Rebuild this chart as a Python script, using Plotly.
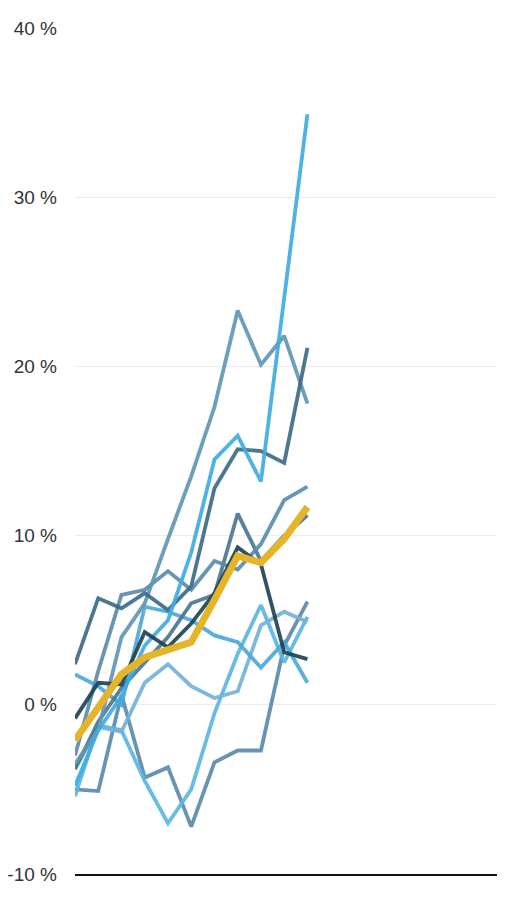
import plotly.graph_objects as go

# periods 0..10 drawn, axis leaves room further right
periods = list(range(11))

# change in % per series
s_bright = [-4.8, -1.5, 0.5, 3.5, 5.0, 9.0, 14.5, 15.9, 13.2, 24.0, 34.9]
s_dark = [2.4, 6.3, 5.7, 6.6, 5.6, 7.0, 12.8, 15.1, 15.0, 14.3, 21.1]
s_tall = [-3.5, -1.5, 4.0, 6.0, 9.8, 13.5, 17.6, 23.3, 20.1, 21.8, 17.8]
s_mid = [-3.0, 2.0, 6.5, 6.8, 7.9, 6.8, 8.5, 8.0, 9.5, 12.1, 12.9]
s_mid2 = [-3.8, -1.0, 1.0, 2.5, 4.0, 6.0, 6.5, 11.3, 8.5, 10.0, 11.2]
s_low = [-5.0, -5.1, 0.6, -4.3, -3.7, -7.2, -3.4, -2.7, -2.7, 3.5, 6.1]
s_light = [-5.4, -1.2, -1.5, -4.5, -7.0, -5.0, -0.5, 3.0, 5.9, 2.5, 5.2]
s_flat = [-3.8, -1.3, -1.6, 1.3, 2.4, 1.1, 0.4, 0.8, 4.7, 5.5, 4.9]
s_navy = [-0.8, 1.3, 1.2, 4.3, 3.4, 4.8, 6.6, 9.3, 8.3, 3.1, 2.7]
s_sky = [1.8, 1.1, 0.0, 5.8, 5.5, 5.0, 4.1, 3.7, 2.2, 3.7, 1.3]
s_avg = [-2.1, -0.1, 1.8, 2.8, 3.3, 3.7, 6.2, 8.8, 8.4, 9.8, 11.7]

y_ticks = [-10, 0, 10, 20, 30, 40]
y_labels = ['-10 %', '0 %', '10 %', '20 %', '30 %', '40 %']

series = [
    (s_low, '#5a8bab'),
    (s_light, '#5cb6e2'),
    (s_flat, '#74b3da'),
    (s_sky, '#4ea9da'),
    (s_mid2, '#4a7793'),
    (s_mid, '#5b8dad'),
    (s_tall, '#6196b6'),
    (s_dark, '#3e6b87'),
    (s_bright, '#3fade2'),
    (s_navy, '#1e4557'),
]

fig = go.Figure()
for vals, col in series:
    fig.add_trace(go.Scatter(x=periods, y=vals, mode='lines',
                             line=dict(color=col, width=3.8), opacity=0.92,
                             hoverinfo='skip'))

fig.add_trace(go.Scatter(x=periods, y=s_avg, mode='lines',
                         line=dict(color='#e6b429', width=7), hoverinfo='skip'))

fig.update_layout(
    width=497, height=900,
    margin=dict(l=67, r=0, t=20, b=34),
    plot_bgcolor='white', paper_bgcolor='white',
    showlegend=False,
    font=dict(family='Liberation Sans, Arial', size=19, color='#333'),
)
fig.update_xaxes(range=[0, 18.5], showticklabels=False, showgrid=False,
                 zeroline=False, showline=True, linecolor='#111', linewidth=2)
fig.update_yaxes(range=[-10, 40], tickvals=y_ticks, ticktext=y_labels,
                 showgrid=True, gridcolor='#ececec', gridwidth=1,
                 zeroline=False, ticklabelstandoff=17)

fig.write_html('out.html')
